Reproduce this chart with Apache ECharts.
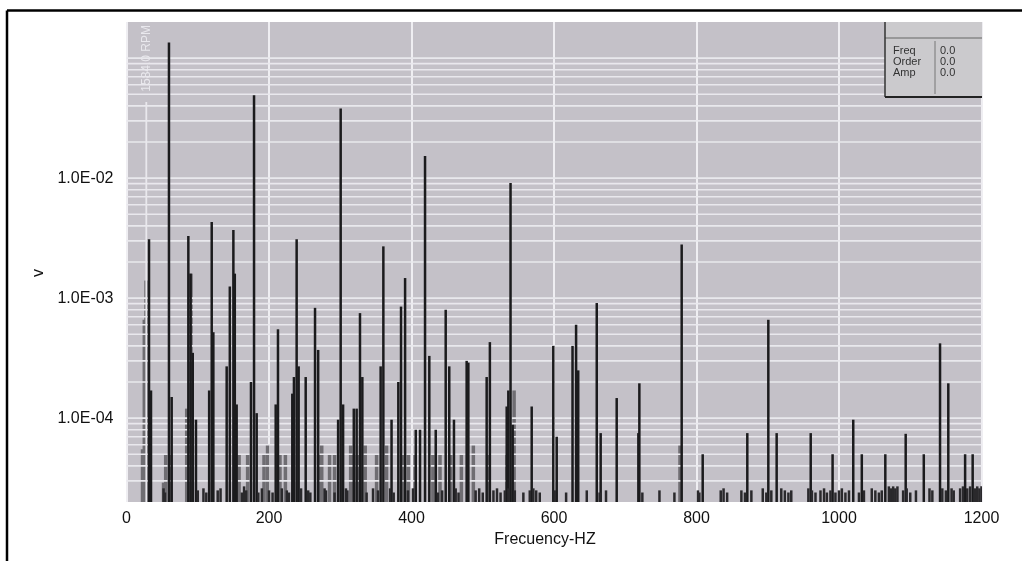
<!DOCTYPE html>
<html>
<head>
<meta charset="utf-8">
<title>Spectrum</title>
<script src="https://cdn.jsdelivr.net/npm/echarts@6/dist/echarts.min.js"></script>
<style>
html, body { margin: 0; padding: 0; background: #fff; }
#chart { width: 1022px; height: 561px; }
</style>
</head>
<body>
<div id="chart"></div>
<script>
// axis ranges and tick labels
const xMin = 0, xMax = 1200, xStep = 200;
const yMin = 2e-5, yMax = 0.2;
const yLabelValues = [1e-4, 1e-3, 1e-2];
const yLabelTexts = ['1.0E-04', '1.0E-03', '1.0E-02'];
const gridDecades = [1e-5, 1e-4, 1e-3, 1e-2, 1e-1];
const gridSteps = [1, 2, 3, 4, 5, 6, 7, 8, 9];
const rpmText = '1584.0 RPM';
const rpmHz = 1584 / 60;
const readout = [['Freq', '0.0'], ['Order', '0.0'], ['Amp', '0.0']];

// main spectral lines [Hz, V]
const peaks = [
  [31.6, 3.1e-3], [34.4, 1.7e-4], [59.6, 0.135], [63.4, 1.5e-4], [86.8, 3.3e-3],
  [90, 1.6e-3], [93, 3.5e-4], [97.5, 9.7e-5], [116, 1.7e-4], [119.6, 4.3e-3],
  [121.9, 5.2e-4], [140.6, 2.7e-4], [145, 1.25e-3], [150, 3.7e-3], [152, 1.6e-3],
  [154.6, 1.3e-4], [174.7, 2e-4], [179, 0.049], [182.7, 1.1e-4], [209.4, 1.3e-4],
  [212.6, 5.5e-4], [232.7, 1.6e-4], [235, 2.2e-4], [238.8, 3.1e-3], [241.6, 2.7e-4],
  [251.5, 2.2e-4], [264.6, 8.3e-4], [269, 3.7e-4], [297, 9.7e-5], [300.6, 0.038],
  [304, 1.3e-4], [319, 1.2e-4], [323, 1.2e-4], [327.7, 7.5e-4], [331, 2.2e-4],
  [356.7, 2.7e-4], [360.5, 2.7e-3], [372, 9.7e-5], [381.5, 2e-4], [385.3, 8.5e-4],
  [391, 1.47e-3], [406, 8e-5], [412, 8e-5], [419, 0.0153], [425, 3.3e-4],
  [434, 8e-5], [448, 8e-4], [453, 2.7e-4], [459.6, 9.7e-5], [477.4, 3e-4],
  [479.8, 2.9e-4], [505.5, 2.2e-4], [510, 4.3e-4], [533.6, 1.25e-4], [535.9, 1.7e-4],
  [539, 9.1e-3], [542, 8.8e-5], [568.7, 1.25e-4], [599, 4e-4], [603.8, 7e-5],
  [626, 4e-4], [631, 6e-4], [634, 2.5e-4], [660, 9.1e-4], [665.5, 7.5e-5],
  [688, 1.47e-4], [718.4, 7.5e-5], [719.8, 1.95e-4], [779.2, 2.8e-3], [808.7, 5e-5],
  [871.3, 7.5e-5], [900.8, 6.6e-4], [912.5, 7.5e-5], [960.3, 7.5e-5], [991, 5e-5],
  [1020, 9.7e-5], [1032, 5e-5], [1065, 5e-5], [1093.6, 7.4e-5], [1119, 5e-5],
  [1141.8, 4.2e-4], [1153.4, 1.95e-4], [1177, 5e-5], [1187.6, 5e-5]
];

// blurred grey side lines [Hz, V]
const shoulders = [
  [22.5, 5.5e-5], [25, 6.6e-4], [27.4, 1.4e-3], [52, 2.9e-5], [55, 5e-5],
  [62, 5e-5], [84.5, 1.2e-4], [90.5, 1.6e-3], [158, 5e-5], [170, 5e-5],
  [193, 5e-5], [198, 6e-5], [215.4, 5e-5], [223, 5e-5], [272, 5e-5],
  [274, 6e-5], [285, 5e-5], [292, 5e-5], [314.6, 6e-5], [318, 5e-5],
  [324, 5e-5], [335, 6e-5], [351, 5e-5], [365, 6e-5], [388, 5e-5],
  [395.6, 5e-5], [405, 5e-5], [430, 5e-5], [440, 5e-5], [455, 5e-5],
  [470, 5e-5], [486.8, 6e-5], [508, 5e-5], [534, 5e-5], [544, 1.7e-4],
  [776.8, 6e-5]
];

// noise floor [Hz, V]
const noiseFloor = [
  [52, 2.6e-5], [54, 2.4e-5], [100, 2.5e-5], [108, 2.6e-5], [112, 2.4e-5], [128, 2.5e-5],
  [132, 2.6e-5], [162, 2.4e-5], [165, 2.7e-5], [168, 2.5e-5], [185, 2.4e-5], [190, 2.6e-5],
  [200, 2.5e-5], [205, 2.4e-5], [218, 2.6e-5], [225, 2.5e-5], [228, 2.4e-5], [245, 2.6e-5],
  [255, 2.5e-5], [258, 2.4e-5], [278, 2.6e-5], [280, 2.5e-5], [292, 2.4e-5], [308, 2.6e-5],
  [310, 2.5e-5], [337, 2.4e-5], [346, 2.6e-5], [353, 2.5e-5], [370, 2.6e-5], [375, 2.4e-5],
  [395, 2.5e-5], [402, 2.6e-5], [437, 2.4e-5], [443, 2.5e-5], [462, 2.6e-5], [466, 2.4e-5],
  [490, 2.5e-5], [495, 2.6e-5], [500, 2.4e-5], [515, 2.5e-5], [520, 2.6e-5], [525, 2.4e-5],
  [531, 2.5e-5], [536, 2.6e-5], [545, 2.5e-5], [557, 2.4e-5], [566, 2.5e-5], [571, 2.6e-5],
  [575, 2.5e-5], [580, 2.4e-5], [601, 2.5e-5], [617, 2.4e-5], [646, 2.5e-5], [664, 2.4e-5],
  [673, 2.5e-5], [724, 2.4e-5], [748, 2.5e-5], [769, 2.4e-5], [802, 2.5e-5], [804, 2.4e-5],
  [834, 2.5e-5], [838, 2.6e-5], [843, 2.4e-5], [863, 2.5e-5], [868, 2.4e-5], [877, 2.5e-5],
  [893, 2.6e-5], [898, 2.4e-5], [905, 2.5e-5], [919, 2.6e-5], [924, 2.5e-5], [929, 2.4e-5],
  [933, 2.5e-5], [957, 2.6e-5], [962, 2.5e-5], [967, 2.4e-5], [974, 2.5e-5], [979, 2.6e-5],
  [983, 2.4e-5], [988, 2.5e-5], [995, 2.4e-5], [1000, 2.5e-5], [1004, 2.6e-5], [1009, 2.4e-5],
  [1014, 2.5e-5], [1028, 2.4e-5], [1035, 2.5e-5], [1046, 2.6e-5], [1051, 2.5e-5], [1056, 2.4e-5],
  [1060, 2.5e-5], [1070, 2.7e-5], [1073, 2.6e-5], [1076, 2.7e-5], [1079, 2.6e-5], [1082, 2.7e-5],
  [1090, 2.5e-5], [1095, 2.6e-5], [1100, 2.4e-5], [1108, 2.5e-5], [1127, 2.6e-5], [1131, 2.5e-5],
  [1145, 2.6e-5], [1150, 2.5e-5], [1158, 2.6e-5], [1161, 2.5e-5], [1170, 2.6e-5], [1174, 2.7e-5],
  [1180, 2.6e-5], [1184, 2.7e-5], [1191, 2.6e-5], [1194, 2.7e-5], [1197, 2.6e-5], [1200, 2.7e-5]
];

const font = '"Liberation Sans", Arial, sans-serif';
const lineWhite = '#e9e8ed';

// log grid lines: every k * 10^n inside the range
const hLines = [];
gridDecades.forEach((d) => {
  gridSteps.forEach((k) => {
    const v = +(k * d).toPrecision(3);
    if (v > yMin * 1.001 && v < yMax * 0.999) hLines.push([xMin, v]);
  });
});

const spike = (w, color) => (params, api) => {
  const top = api.coord([api.value(0), api.value(1)]);
  const base = api.coord([api.value(0), yMin]);
  return {
    type: 'rect',
    shape: { x: top[0] - w / 2, y: top[1], width: w, height: base[1] - top[1] },
    style: { fill: color }
  };
};

const yLabel = (v) => {
  const i = yLabelValues.findIndex((t) => Math.abs(Math.log10(v) - Math.log10(t)) < 1e-6);
  return i < 0 ? '' : yLabelTexts[i];
};

const chart = echarts.init(document.getElementById('chart'));

const boxX = 885, boxY = 22, boxW = 97, boxH = 75;
const graphics = [
  // outer frame
  { type: 'line', z: 100, shape: { x1: 7, y1: 10.5, x2: 1022, y2: 10.5 }, style: { stroke: '#000', lineWidth: 2.5 } },
  { type: 'line', z: 100, shape: { x1: 7, y1: 10.5, x2: 7, y2: 561 }, style: { stroke: '#000', lineWidth: 2.5 } },
  // readout box
  { type: 'rect', z: 100, shape: { x: boxX, y: boxY, width: boxW, height: boxH }, style: { fill: '#cbcacd' } },
  { type: 'line', z: 101, shape: { x1: boxX, y1: 38, x2: boxX + boxW, y2: 38 }, style: { stroke: '#666', lineWidth: 1.2 } },
  { type: 'line', z: 101, shape: { x1: boxX, y1: boxY, x2: boxX, y2: boxY + boxH }, style: { stroke: '#333', lineWidth: 1.5 } },
  { type: 'line', z: 101, shape: { x1: boxX, y1: boxY + boxH, x2: boxX + boxW, y2: boxY + boxH }, style: { stroke: '#222', lineWidth: 2 } },
  { type: 'line', z: 101, shape: { x1: 935, y1: 41, x2: 935, y2: 94 }, style: { stroke: '#777', lineWidth: 1 } }
];
readout.forEach((row, i) => {
  graphics.push({ type: 'text', z: 102, x: 893, y: 51 + i * 11, style: { text: row[0], font: '11px ' + font, fill: '#333', verticalAlign: 'middle' } });
  graphics.push({ type: 'text', z: 102, x: 940, y: 51 + i * 11, style: { text: row[1], font: '11px ' + font, fill: '#333', verticalAlign: 'middle' } });
});

const option = {
  animation: false,
  backgroundColor: '#fff',
  grid: {
    left: 126.5, right: 40.5, top: 22, bottom: 59,
    show: true, backgroundColor: '#c4c1c8', borderWidth: 0
  },
  xAxis: {
    type: 'value',
    min: xMin, max: xMax, interval: xStep,
    name: 'Frecuency-HZ',
    nameLocation: 'middle',
    nameGap: 29,
    nameTextStyle: { color: '#111', fontSize: 16, fontFamily: font, padding: [0, 18, 0, 0] },
    axisLine: { show: false },
    axisTick: { show: false },
    axisLabel: { color: '#111', fontSize: 16, fontFamily: font, margin: 9, formatter: (v) => String(v) },
    splitLine: { show: true, lineStyle: { color: '#efeef2', width: 2 } }
  },
  yAxis: {
    type: 'log',
    logBase: 10,
    min: yMin, max: yMax,
    name: 'v',
    nameLocation: 'middle',
    nameGap: 80,
    nameTextStyle: { color: '#111', fontSize: 16, fontFamily: font, padding: [0, 22, 0, 0] },
    axisLine: { show: false },
    axisTick: { show: false },
    splitLine: { show: false },
    axisLabel: { color: '#111', fontSize: 16, fontFamily: font, margin: 13, formatter: yLabel }
  },
  graphic: graphics,
  series: [
    {
      name: 'grid', type: 'custom', z: 3, silent: true, clip: true,
      data: hLines,
      renderItem: (params, api) => {
        const a = api.coord([xMin, api.value(1)]);
        const b = api.coord([xMax, api.value(1)]);
        return { type: 'line', shape: { x1: a[0], y1: a[1], x2: b[0], y2: b[1] }, style: { stroke: lineWhite, lineWidth: 1.6 } };
      }
    },
    {
      name: 'rpm', type: 'custom', z: 3, silent: true,
      data: [[rpmHz, yMax]],
      renderItem: (params, api) => {
        const top = api.coord([api.value(0), yMax]);
        const base = api.coord([api.value(0), yMin]);
        return {
          type: 'group',
          children: [
            { type: 'line', shape: { x1: top[0] + 1, y1: top[1] + 80, x2: base[0] + 1, y2: base[1] }, style: { stroke: lineWhite, lineWidth: 1.8 } },
            {
              type: 'text', x: top[0] + 1, y: top[1] + 3, rotation: Math.PI / 2,
              style: { text: rpmText, fill: lineWhite, font: '12px ' + font, align: 'right', verticalAlign: 'middle' }
            }
          ]
        };
      }
    },
    { name: 'shoulders', type: 'custom', z: 2, silent: true, clip: true, data: shoulders, renderItem: spike(3.5, '#6f6d72') },
    { name: 'peaks', type: 'custom', z: 4, silent: true, clip: true, data: peaks, renderItem: spike(2.5, '#1b1b1d') },
    { name: 'floor', type: 'custom', z: 4, silent: true, clip: true, data: noiseFloor, renderItem: spike(2.5, '#2a292c') }
  ]
};
option && chart.setOption(option);
</script>
</body>
</html>
